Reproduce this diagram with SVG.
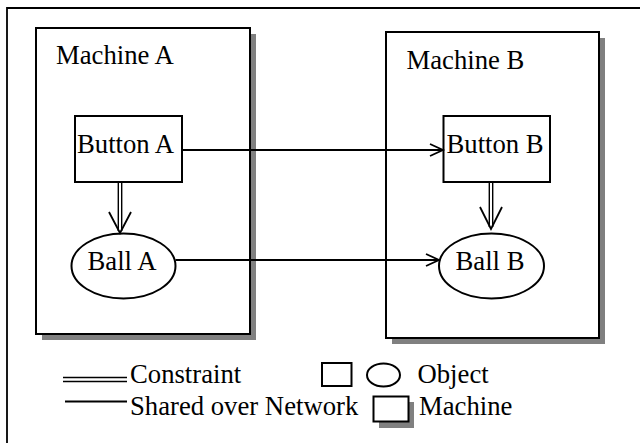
<svg xmlns="http://www.w3.org/2000/svg" width="640" height="443" viewBox="0 0 640 443">
  <style>
    .lbl { font-family: 'Liberation Serif', 'DejaVu Serif', serif; font-size: 26.7px; fill: #000; }
    .box { fill: #fff; stroke: #000; stroke-width: 2; }
    .shadow { fill: #808080; }
    .line { fill: none; stroke: #000; stroke-width: 1.8; }
    .dbl { fill: none; stroke: #000; stroke-width: 1.4; }
  </style>
  <rect x="0" y="0" width="640" height="443" fill="#fff"/>
  <!-- outer frame -->
  <path class="line" d="M7,443 V8 H640" stroke-width="2"/>

  <g id="machine-a">
    <rect class="shadow" x="42" y="34" width="214" height="306"/>
    <rect class="box" x="36" y="28" width="214" height="306"/>
    <text class="lbl" font-family="Liberation Serif" x="56" y="64">Machine A</text>
  </g>
  <g id="machine-b">
    <rect class="shadow" x="392" y="38" width="213" height="306"/>
    <rect class="box" x="386" y="32" width="213" height="306"/>
    <text class="lbl" font-family="Liberation Serif" x="406.5" y="69">Machine B</text>
  </g>
  <g id="button-a">
    <rect class="box" x="75" y="116" width="107" height="66"/>
    <text class="lbl" font-family="Liberation Serif" x="77" y="153">Button A</text>
  </g>
  <g id="button-b">
    <rect class="box" x="443.5" y="116" width="106.5" height="66"/>
    <text class="lbl" font-family="Liberation Serif" x="446.5" y="153">Button B</text>
  </g>
  <g id="ball-a">
    <ellipse class="box" cx="123.5" cy="266" rx="52" ry="32.5"/>
    <text class="lbl" font-family="Liberation Serif" x="87.5" y="270">Ball A</text>
  </g>
  <g id="ball-b">
    <ellipse class="box" cx="491.5" cy="266" rx="52.5" ry="32.5"/>
    <text class="lbl" font-family="Liberation Serif" x="455.5" y="270">Ball B</text>
  </g>

  <g id="connectors">
    <!-- shared over network -->
    <path class="line" d="M182,150 H443 M430,144 L443,150 L430,156"/>
    <path class="line" d="M175.5,260 H439 M426,254 L439,260 L426,266"/>
    <!-- constraints -->
    <path class="dbl" d="M118.3,182 V231 M121.7,182 V231"/>
    <path class="line" d="M109,212 L120,233 L131,212"/>
    <path class="dbl" d="M489.3,182 V227 M492.7,182 V227"/>
    <path class="line" d="M480,207 L491,229 L502,207"/>
  </g>

  <g id="legend">
    <path class="dbl" d="M63,377.5 H127 M63,381.5 H127" stroke-width="1.8"/>
    <text class="lbl" font-family="Liberation Serif" x="130" y="383">Constraint</text>
    <path class="line" d="M65,401.5 H127"/>
    <text class="lbl" font-family="Liberation Serif" x="130" y="415">Shared over Network</text>
    <rect class="box" x="322" y="363" width="29.5" height="23"/>
    <ellipse class="box" cx="383.5" cy="375" rx="16.5" ry="11.5"/>
    <text class="lbl" font-family="Liberation Serif" x="417.5" y="383">Object</text>
    <rect class="shadow" x="379" y="402" width="35" height="26"/>
    <rect class="box" x="373.5" y="396.5" width="35" height="25"/>
    <text class="lbl" font-family="Liberation Serif" x="419" y="415">Machine</text>
  </g>
</svg>
